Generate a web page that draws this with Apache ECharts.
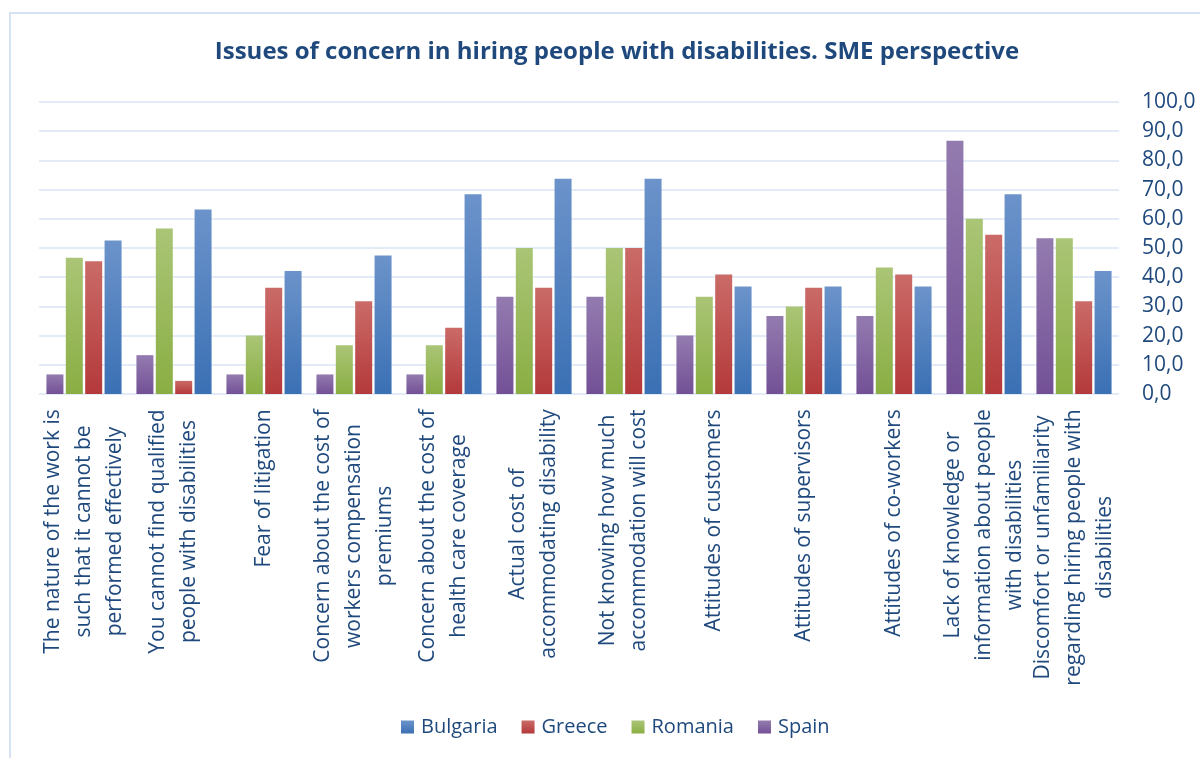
<!DOCTYPE html>
<html>
<head>
<meta charset="utf-8">
<script src="https://cdn.jsdelivr.net/npm/echarts@6/dist/echarts.min.js"></script>
<style>html,body{margin:0;padding:0;background:#fff}#c{width:1200px;height:758px}</style>
</head>
<body>
<div id="c"></div>
<script>
const categories = [
  "The nature of the work is\nsuch that it cannot be\nperformed effectively",
  "You cannot find qualified\npeople with disabilities",
  "Fear of litigation",
  "Concern about the cost of\nworkers compensation\npremiums",
  "Concern about the cost of\nhealth care coverage",
  "Actual cost of\naccommodating disability",
  "Not knowing how much\naccommodation will cost",
  "Attitudes of customers",
  "Attitudes of supervisors",
  "Attitudes of co-workers",
  "Lack of knowledge or\ninformation about people\nwith disabilities",
  "Discomfort or unfamiliarity\nregarding hiring people with\ndisabilities"
];
const spain    = [6.7, 13.3, 6.7, 6.7, 6.7, 33.3, 33.3, 20.0, 26.7, 26.7, 86.7, 53.3];
const romania  = [46.7, 56.7, 20.0, 16.7, 16.7, 50.0, 50.0, 33.3, 30.0, 43.3, 60.0, 53.3];
const greece   = [45.5, 4.5, 36.4, 31.8, 22.7, 36.4, 50.0, 40.9, 36.4, 40.9, 54.5, 31.8];
const bulgaria = [52.6, 63.2, 42.1, 47.4, 68.4, 73.7, 73.7, 36.8, 36.8, 36.8, 68.4, 42.1];
const legendNames = ["Bulgaria", "Greece", "Romania", "Spain"];
const yMin = 0, yMax = 100, yStep = 10;

const FONT = '"Open Sans", "Noto Sans", sans-serif';
const TEXT = '#1F497D';
const LABEL_SIZE = 21;

function grad(top, bottom) {
  return new echarts.graphic.LinearGradient(0, 0, 0, 1, [
    { offset: 0, color: top }, { offset: 1, color: bottom }
  ]);
}
const colors = {
  Bulgaria: grad('#6C93CA', '#3A70B4'),
  Greece: grad('#CA6B68', '#B4393A'),
  Romania: grad('#AAC576', '#8AAE43'),
  Spain: grad('#937BAF', '#735096')
};

// measure label lines so that each multi-line label is centred line by line
const mctx = document.createElement('canvas').getContext('2d');
mctx.font = LABEL_SIZE + 'px ' + FONT;
const rich = {};
categories.forEach((c, i) => {
  const w = Math.max(...c.split('\n').map(l => mctx.measureText(l).width));
  rich['c' + i] = { width: Math.ceil(w) + 2, align: 'center', fontSize: LABEL_SIZE, fontFamily: FONT, color: TEXT, lineHeight: 31 };
});

const chart = echarts.init(document.getElementById('c'), null, { renderer: 'canvas' });
function bar(name, data) {
  return {
    name, type: 'bar', data, barWidth: 17, barGap: '14%',
    itemStyle: { color: colors[name] }
  };
}
chart.setOption({
  animation: false,
  backgroundColor: '#fff',
  title: {
    text: 'Issues of concern in hiring people with disabilities. SME perspective',
    left: 612, top: 35, textAlign: 'center',
    textStyle: { fontFamily: FONT, fontWeight: 'bold', fontSize: 24, color: TEXT }
  },
  graphic: [{
    type: 'rect', shape: { x: 10, y: 13, width: 1220, height: 780 },
    style: { fill: 'none', stroke: '#D6E2F2', lineWidth: 2 }, silent: true, z: -1
  }],
  legend: {
    data: legendNames, left: 396, top: 712, itemWidth: 13, itemHeight: 13, itemGap: 24,
    icon: 'rect',
    textStyle: { fontFamily: FONT, fontSize: 20, color: TEXT, padding: [0, 0, 0, 2] }
  },
  grid: { left: 39, right: 81, top: 102, bottom: 364, containLabel: false },
  xAxis: {
    type: 'category', data: categories,
    axisLine: { show: false }, axisTick: { show: false },
    axisLabel: {
      interval: 0, rotate: 90, margin: 14,
      formatter: (v, i) => v.split('\n').map(l => '{c' + i + '|' + l + '}').join('\n'),
      rich
    }
  },
  yAxis: {
    type: 'value', position: 'right', min: yMin, max: yMax, interval: yStep,
    axisLine: { show: false }, axisTick: { show: false },
    axisLabel: {
      margin: 23, fontFamily: FONT, fontSize: LABEL_SIZE, color: TEXT,
      formatter: v => v.toFixed(1).replace('.', ',')
    },
    splitLine: { lineStyle: { color: '#D9E5F3', width: 1.5 } }
  },
  series: [
    bar('Spain', spain),
    bar('Romania', romania),
    bar('Greece', greece),
    bar('Bulgaria', bulgaria)
  ]
});
</script>
</body>
</html>
